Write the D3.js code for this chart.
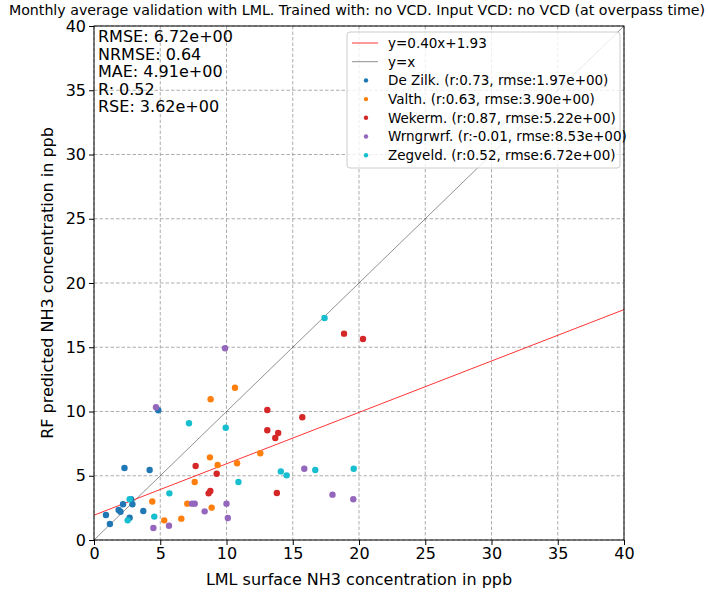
<!DOCTYPE html>
<html><head><meta charset="utf-8">
<script src="https://cdn.jsdelivr.net/npm/d3@7"></script>
<style>body{margin:0;background:#fff}svg{display:block;font-family:"DejaVu Sans",sans-serif}</style>
</head><body><svg id="c" width="708" height="594"></svg>
<script>
const title = "Monthly average validation with LML. Trained with: no VCD. Input VCD: no VCD (at overpass time)";
const xLabel = "LML surface NH3 concentration in ppb";
const yLabel = "RF predicted NH3 concentration in ppb";
const ticks = [0,5,10,15,20,25,30,35,40];
const stats = ["RMSE: 6.72e+00","NRMSE: 0.64","MAE: 4.91e+00","R: 0.52","RSE: 3.62e+00"];
const fitSlope = 0.40, fitIntercept = 1.93;
const seriesNames = ["De Zilk. (r:0.73, rmse:1.97e+00)","Valth. (r:0.63, rmse:3.90e+00)","Wekerm. (r:0.87, rmse:5.22e+00)","Wrngrwrf. (r:-0.01, rmse:8.53e+00)","Zegveld. (r:0.52, rmse:6.72e+00)"];
const colors = ["#1f77b4","#ff7f0e","#d62728","#9467bd","#17becf"];
const deZilk = [[0.9,1.95],[1.2,1.25],[1.86,2.33],[2.0,2.2],[2.19,2.78],[2.3,5.6],[2.8,3.17],[2.9,2.78],[2.69,1.74],[3.72,2.26],[4.2,5.45],[4.85,10.1]];
const valth = [[4.4,3.0],[5.3,1.53],[6.59,1.66],[7.04,2.83],[7.6,4.51],[8.75,6.43],[8.8,10.95],[8.88,2.52],[9.33,5.84],[10.64,11.85],[10.8,5.97],[12.55,6.75]];
const wekerm = [[7.67,5.76],[8.65,3.63],[8.78,3.81],[9.26,5.16],[13.08,10.12],[13.08,8.54],[13.68,7.94],[13.9,8.33],[13.8,3.66],[15.72,9.55],[18.87,16.06],[20.3,15.64]];
const wrngrwrf = [[4.48,0.93],[4.68,10.33],[5.66,1.11],[7.4,2.83],[7.6,2.83],[8.35,2.23],[9.89,14.92],[10.0,2.83],[10.1,1.71],[15.87,5.55],[18.0,3.53],[19.57,3.17]];
const zegveld = [[2.69,3.17],[2.54,1.53],[4.55,1.82],[5.69,3.63],[7.17,9.08],[9.94,8.74],[10.9,4.51],[14.1,5.34],[14.54,5.03],[16.7,5.45],[19.6,5.55],[17.4,17.28]];
const series = [deZilk, valth, wekerm, wrngrwrf, zegveld];

const svg = d3.select("#c");
const L=94, R=624, T=26, B=540;
const x = d3.scaleLinear().domain([0,40]).range([L,R]);
const y = d3.scaleLinear().domain([0,40]).range([B,T]);

svg.append("text").attr("x",357).attr("y",14.5).attr("text-anchor","middle").attr("font-size",14.2).text(title);

// grid
const g = svg.append("g");
g.selectAll(".gx").data(ticks).join("line").attr("x1",d=>x(d)).attr("x2",d=>x(d)).attr("y1",T).attr("y2",B)
 .attr("stroke","#999").attr("stroke-width",0.8).attr("stroke-dasharray","3.5,2");
g.selectAll(".gy").data(ticks).join("line").attr("y1",d=>y(d)).attr("y2",d=>y(d)).attr("x1",L).attr("x2",R)
 .attr("stroke","#999").attr("stroke-width",0.8).attr("stroke-dasharray","3.5,2");

svg.append("clipPath").attr("id","pc").append("rect").attr("x",L).attr("y",T).attr("width",R-L).attr("height",B-T);
const p = svg.append("g").attr("clip-path","url(#pc)");
// y=x
p.append("line").attr("x1",x(0)).attr("y1",y(0)).attr("x2",x(40)).attr("y2",y(40)).attr("stroke","#000").attr("stroke-opacity",0.55).attr("stroke-width",0.8);
// fit
p.append("line").attr("x1",x(0)).attr("y1",y(fitIntercept)).attr("x2",x(40)).attr("y2",y(fitSlope*40+fitIntercept)).attr("stroke","red").attr("stroke-width",0.8);

series.forEach((s,i)=>{
  p.selectAll(null).data(s).join("circle").attr("cx",d=>x(d[0])).attr("cy",d=>y(d[1])).attr("r",3.2).attr("fill",colors[i]);
});

// axes
const ax = svg.append("g").attr("transform",`translate(0,${B})`).call(d3.axisBottom(x).tickValues(ticks).tickSize(5).tickPadding(3));
const ay = svg.append("g").attr("transform",`translate(${L},0)`).call(d3.axisLeft(y).tickValues(ticks).tickSize(5).tickPadding(3));
[ax,ay].forEach(a=>{a.select(".domain").remove();a.selectAll("text").attr("font-size",16).attr("font-family","DejaVu Sans").attr("fill","#000");a.selectAll("line").attr("stroke","#000");});
svg.append("rect").attr("x",L).attr("y",T).attr("width",R-L).attr("height",B-T).attr("fill","none").attr("stroke","#000").attr("stroke-width",1);

svg.append("text").attr("x",(L+R)/2).attr("y",585).attr("text-anchor","middle").attr("font-size",16).text(xLabel);
svg.append("text").attr("transform",`translate(53,${(T+B)/2}) rotate(-90)`).attr("text-anchor","middle").attr("font-size",16).text(yLabel);

// stats
svg.selectAll(".st").data(stats).join("text").attr("x",98).attr("y",(d,i)=>42+i*17.6).attr("font-size",16).text(d=>d);

// legend
const lg = svg.append("g");
lg.append("rect").attr("x",347).attr("y",32).attr("width",273).attr("height",136).attr("rx",3).attr("fill","#fff").attr("fill-opacity",0.8).attr("stroke","#ccc");
const items = [{t:`y=${fitSlope.toFixed(2)}x+${fitIntercept.toFixed(2)}`,type:"line",c:"red",o:1},{t:"y=x",type:"line",c:"#000",o:0.55}]
  .concat(seriesNames.map((n,i)=>({t:n,type:"dot",c:colors[i]})));
items.forEach((it,i)=>{
  const yy = 43 + i*18.7;
  if(it.type==="line") lg.append("line").attr("x1",352).attr("x2",378).attr("y1",yy).attr("y2",yy).attr("stroke",it.c).attr("stroke-opacity",it.o).attr("stroke-width",0.8);
  else lg.append("circle").attr("cx",366).attr("cy",yy).attr("r",2.2).attr("fill",it.c);
  lg.append("text").attr("x",388).attr("y",yy+4.8).attr("font-size",13.5).text(it.t);
});
</script></body></html>
